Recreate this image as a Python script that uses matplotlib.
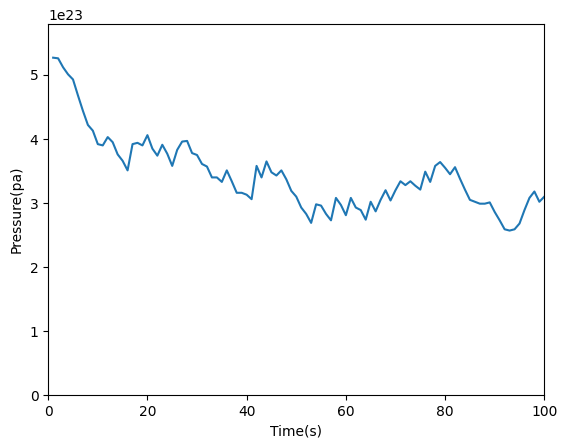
import matplotlib
matplotlib.use("Agg")
import matplotlib.pyplot as plt
import numpy as np

time = list(range(1, 101))
pressure = [5.27,5.26,5.12,5.01,4.93,4.68,4.44,4.22,4.13,3.92,3.90,4.03,3.95,3.76,3.66,3.51,3.92,3.94,3.90,4.06,
            3.85,3.74,3.91,3.77,3.58,3.83,3.96,3.97,3.78,3.75,3.61,3.57,3.40,3.40,3.33,3.51,3.34,3.16,3.16,3.13,
            3.06,3.58,3.40,3.65,3.48,3.43,3.51,3.37,3.19,3.10,2.93,2.83,2.69,2.98,2.96,2.83,2.73,3.08,2.97,2.81,
            3.08,2.93,2.89,2.74,3.02,2.87,3.05,3.20,3.04,3.20,3.34,3.28,3.34,3.27,3.21,3.49,3.33,3.58,3.64,3.55,
            3.45,3.56,3.38,3.21,3.05,3.02,2.99,2.99,3.01,2.86,2.73,2.59,2.57,2.59,2.68,2.89,3.08,3.18,3.02,3.10]
pressure = np.array(pressure) * 1e23

fig, ax = plt.subplots(figsize=(5.67, 4.48), dpi=100)
fig.subplots_adjust(left=0.085, right=0.96, top=0.947, bottom=0.118)
ax.plot(time, pressure, color="#1f77b4")
ax.set_xlim(0, 100)
ax.set_ylim(0, 5.8e23)
ax.set_xlabel("Time(s)")
ax.set_ylabel("Pressure(pa)")
fig.savefig("out.png")
